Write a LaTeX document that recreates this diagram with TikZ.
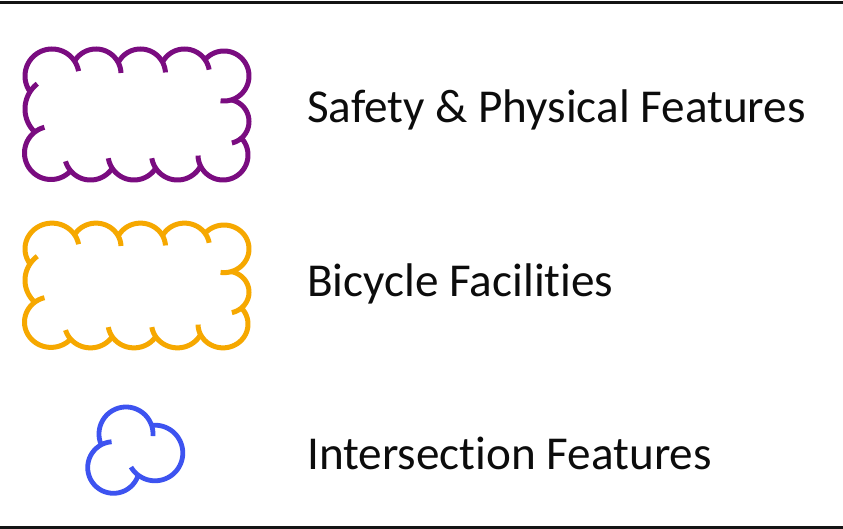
\documentclass[tikz,border=0pt]{standalone}
\usepackage{fontspec}
\setmainfont{Carlito}[Ligatures={CommonOff}]
\definecolor{cpurple}{RGB}{122,12,128}
\definecolor{corange}{RGB}{246,168,0}
\definecolor{cblue}{RGB}{61,83,240}
\definecolor{ctext}{RGB}{12,12,12}
\newcommand\qcusp[6]{%
  \pgfmathsetmacro\qdx{(#4)-(#1)}%
  \pgfmathsetmacro\qdy{(#5)-(#2)}%
  \pgfmathsetmacro\qd{sqrt((\qdx)*(\qdx)+(\qdy)*(\qdy))}%
  \pgfmathsetmacro\qa{((#3)*(#3)-(#6)*(#6)+(\qd)*(\qd))/(2*(\qd))}%
  \pgfmathsetmacro\qh{sqrt(max((#3)*(#3)-(\qa)*(\qa),0))}%
  \pgfmathsetmacro\qux{(\qdx)/(\qd)}%
  \pgfmathsetmacro\quy{(\qdy)/(\qd)}%
  \pgfmathsetmacro\qpx{(#1)+(\qa)*(\qux)+(\qh)*(\quy)}%
  \pgfmathsetmacro\qpy{(#2)+(\qa)*(\quy)-(\qh)*(\qux)}%
  \pgfmathsetmacro\qangA{atan2((\qpy)-(#2),(\qpx)-(#1))}%
  \pgfmathsetmacro\qangB{atan2((\qpy)-(#5),(\qpx)-(#4))}%
}
\newcommand\drawcloud[5]{%
  \foreach \i in {0,...,#2}{%
    \pgfmathtruncatemacro\qip{mod(\i+#2,#2+1)}%
    \pgfmathtruncatemacro\qin{mod(\i+1,#2+1)}%
    \pgfmathsetmacro\qPx{#3[\qip]}\pgfmathsetmacro\qPy{#4[\qip]}\pgfmathsetmacro\qPr{#5[\qip]}%
    \pgfmathsetmacro\qCx{#3[\i]}\pgfmathsetmacro\qCy{#4[\i]}\pgfmathsetmacro\qCr{#5[\i]}%
    \pgfmathsetmacro\qNx{#3[\qin]}\pgfmathsetmacro\qNy{#4[\qin]}\pgfmathsetmacro\qNr{#5[\qin]}%
    \qcusp{\qPx}{\qPy}{\qPr}{\qCx}{\qCy}{\qCr}%
    \let\qs\qangB
    \qcusp{\qCx}{\qCy}{\qCr}{\qNx}{\qNy}{\qNr}%
    \pgfmathsetmacro\qe{ifthenelse(\qangA<\qs,\qangA+360,\qangA)}%
    \pgfmathsetmacro\qf{\qe+620/\qCr}%
    \draw[#1] plot[variable=\t, domain=\qs:\qf, samples=60, smooth]
      ({\qCx+\qCr*cos(\t)},{\qCy+\qCr*sin(\t)});
  }%
}
\def\PX{{52,96,140.5,184.5,224,227,223,177.5,134,90.5,51,57}}
\def\PY{{76,74,74,74,76,121.5,155,154,154,154,153,109}}
\def\PR{{27,25,25,25,25,22,25,26,26,26,26.5,32}}
\def\BX{{126,155,113.5}}
\def\BY{{434,453,467.5}}
\def\BR{{27,27.8,25.8}}
\tikzset{
  purplecloud/.style={draw=cpurple, line width=5pt},
  orangecloud/.style={draw=corange, line width=5pt},
  bluecloud/.style={draw=cblue, line width=4.8pt},
  rule/.style={draw=black!92, line width=3pt},
  lbl/.style={anchor=base west, inner sep=0pt, text=ctext, font=\fontsize{47.2}{56}\selectfont},
}
\begin{document}
\begin{tikzpicture}[x=1pt, y=-1pt]
\useasboundingbox (0,0) rectangle (843,529);
\fill[white] (0,0) rectangle (843,529);
\coordinate (tl) at (0,2.5);
\coordinate (tr) at (843,2.5);
\coordinate (bl) at (0,527.5);
\coordinate (br) at (843,527.5);
\draw[rule] (tl) -- (tr);
\draw[rule] (bl) -- (br);
\drawcloud{purplecloud}{11}{\PX}{\PY}{\PR}
\begin{scope}[shift={(0,221)}, yscale=0.952, shift={(0,-46.75)}]
\drawcloud{orangecloud}{11}{\PX}{\PY}{\PR}
\end{scope}
\drawcloud{bluecloud}{2}{\BX}{\BY}{\BR}
\node[lbl] (t1) at (307,123) {Safety \& Physical Features};
\node[lbl] (t2) at (307,296) {Bicycle Facilities};
\node[lbl] (t3) at (307,469) {Intersection Features};
\end{tikzpicture}
\end{document}
